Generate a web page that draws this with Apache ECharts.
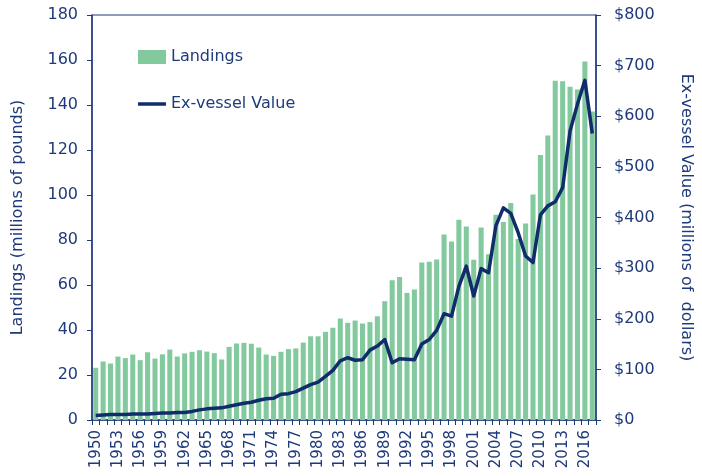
<!DOCTYPE html>
<html>
<head>
<meta charset="utf-8">
<script src="https://cdn.jsdelivr.net/npm/echarts@6/dist/echarts.min.js"></script>
<style>
	html, body { margin: 0; padding: 0; background: #fff; }
	#main { width: 702px; height: 476px; }
</style>
</head>
<body>
<div id="main"></div>
<script>
'use strict';

// years 1950 - 2017
var years = [];
for (var y = 1950; y <= 2017; y++) {
	years.push(String(y));
}

// landings, millions of pounds
var landings = [
	23.2, 26.0, 25.1, 28.2, 27.5, 29.1, 26.6, 30.1, 27.3, 29.2,
	31.3, 28.2, 29.6, 30.3, 31.0, 30.4, 29.7, 26.9, 32.5, 34.0,
	34.3, 33.9, 32.2, 29.1, 28.5, 30.3, 31.5, 31.8, 34.4, 37.2,
	37.2, 39.2, 41.0, 45.1, 43.2, 44.2, 42.9, 43.5, 46.1, 52.8,
	62.1, 63.6, 56.5, 58.0, 70.0, 70.3, 71.3, 82.4, 79.3, 89.0,
	86.0, 71.2, 85.6, 73.7, 91.2, 88.0, 96.5, 80.5, 87.3, 100.2,
	117.8, 126.4, 150.8, 150.6, 148.1, 146.9, 159.3, 137.1
];

// ex-vessel value, millions of dollars
var exVessel = [
	9, 10, 11, 11, 11, 12, 12, 12, 13, 14,
	14, 15, 15, 17, 20, 22, 23, 24, 27, 30,
	33, 35, 39, 42, 43, 51, 52, 56, 63, 70,
	75, 86, 98, 117, 123, 118, 119, 138, 146, 159,
	113, 121, 120, 119, 150, 159, 177, 210, 205, 264,
	304, 245, 299, 291, 384, 419, 408, 370, 324, 311,
	405, 423, 431, 459, 571, 624, 671, 566
];

var navy = '#1F3A7A';
var font = 'DejaVu Sans';

var myChart = echarts.init(document.getElementById('main'));

myChart.setOption({
	animation: false,
	textStyle: { fontFamily: font },
	grid: {
		left: 92,
		right: 88,
		top: 15,
		bottom: 56,
		show: true,
		borderColor: navy,
		borderWidth: 1
	},
	legend: {
		left: 133,
		top: 44,
		orient: 'vertical',
		itemWidth: 28,
		itemHeight: 14,
		itemGap: 31,
		textStyle: { fontFamily: font, fontSize: 16, color: navy },
		data: [{
			name: 'Landings',
			icon: 'rect'
		}, {
			name: 'Ex-vessel Value',
			icon: 'path://M0,0h28v3.5h-28z'
		}]
	},
	xAxis: [{
		type: 'category',
		data: years,
		boundaryGap: true,
		axisLine: { lineStyle: { color: navy, width: 1.5 } },
		axisTick: { show: true, interval: 0, length: 5, lineStyle: { color: navy } },
		axisLabel: {
			interval: 2,
			rotate: 90,
			margin: 10,
			fontFamily: font,
			fontSize: 15,
			color: navy
		}
	}],
	yAxis: [{
		type: 'value',
		min: 0,
		max: 180,
		interval: 20,
		name: 'Landings (millions of pounds)',
		nameLocation: 'middle',
		nameGap: 66,
		nameTextStyle: { fontFamily: font, fontSize: 16, color: navy },
		axisLine: { show: true, lineStyle: { color: navy, width: 1.5 } },
		axisTick: { show: true, length: 5, lineStyle: { color: navy } },
		splitLine: { show: false },
		axisLabel: { margin: 14, fontFamily: font, fontSize: 16, color: navy }
	}, {
		type: 'value',
		min: 0,
		max: 800,
		interval: 100,
		position: 'right',
		name: 'Ex-vessel Value (millions of  dollars)',
		nameLocation: 'middle',
		nameRotate: -90,
		nameGap: 82,
		nameTextStyle: { fontFamily: font, fontSize: 16, color: navy },
		axisLine: { show: true, lineStyle: { color: navy, width: 1.5 } },
		axisTick: { show: true, length: 5, lineStyle: { color: navy } },
		splitLine: { show: false },
		axisLabel: {
			margin: 18,
			fontFamily: font,
			fontSize: 16,
			color: navy,
			formatter: function (v) {
				return '$' + v;
			}
		}
	}],
	series: [{
		name: 'Landings',
		type: 'bar',
		yAxisIndex: 0,
		barCategoryGap: '32%',
		itemStyle: { color: '#82C99D' },
		data: landings
	}, {
		name: 'Ex-vessel Value',
		type: 'line',
		yAxisIndex: 1,
		symbol: 'none',
		lineStyle: { color: '#112C6B', width: 3.5, join: 'round' },
		itemStyle: { color: '#112C6B' },
		data: exVessel
	}]
});
</script>
</body>
</html>
